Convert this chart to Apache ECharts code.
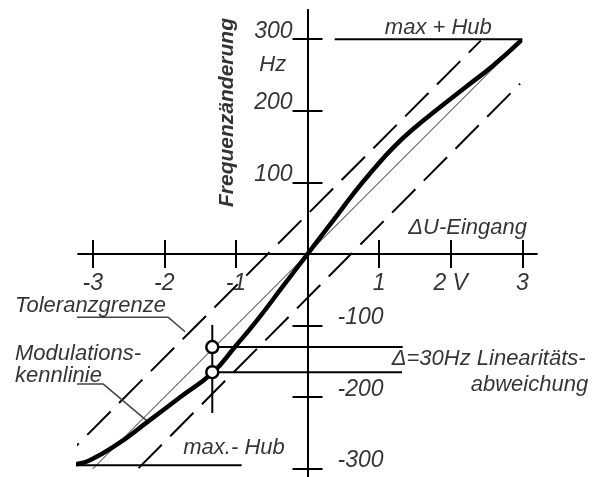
<!DOCTYPE html>
<html><head><meta charset="utf-8">
<script src="https://cdn.jsdelivr.net/npm/echarts@6/dist/echarts.min.js"></script>
<style>html,body{margin:0;padding:0;background:#fff}#c{width:602px;height:477px}</style>
</head><body><div id="c"></div>
<script>
// ---------- data ----------
const xTicks = [-3, -2, -1, 1, 2, 3];
const xTickLabels = ['-3', '-2', '-1', '1', '2 V', '3'];
const yTicks = [-300, -200, -100, 100, 200, 300];
const yLabelsPos = [100, 200, 300];
const yLabelsNeg = [-100, -200, -300];

// Modulationskennlinie (V, Hz)
const curveU = [-3.45, -3.25, -3.04, -2.66, -2.23, -1.78, -1.33, -1.0, -0.7, -0.35, 0, 0.36, 0.64, 0.92, 1.2, 1.48, 1.85, 2.22, 2.59, 2.97];
const curveF = [-297, -294, -288, -266, -234, -200, -166, -128, -92, -46, 0, 47, 84, 118, 149, 175, 205, 234, 263, 297];
// ideal linear characteristic
const idealU = [-3, 3];
const idealF = [-300, 300];
// tolerance limits
const tolUpU = [-3.52, 2.42];
const tolUpF = [-297, 298];
const tolLoU = [-2.36, 2.97];
const tolLoF = [-299, 238];
// max hub lines
const hubPlusU = [0.38, 3];
const hubPlusF = [300, 300];
const hubMinusU = [-3.57, -0.92];
const hubMinusF = [-295, -295];
// deviation marker
const devU = -1.33;
const devF = [-130, -165];
const devVertF = [-99, -222];
const devLineEndU = [1.33, 1.32];
// leader lines
const tolLeadU = [-4.085, -1.944, -1.71];
const tolLeadF = [-88.4, -88.4, -108.5];
const kenLeadU = [-4.085, -2.852, -2.23];
const kenLeadF = [-181.6, -181.6, -234];
// annotation texts
const annoText = ['Toleranzgrenze', 'Modulations-', 'kennlinie', 'max + Hub', 'max.- Hub', 'Δ=30Hz Linearitäts-', 'abweichung', 'ΔU-Eingang', 'Hz'];
const annoU = [-4.085, -4.085, -4.085, 1.08, -1.735, 1.176, 3.92, 1.408, -0.486];
const annoF = [-72.5, -138.8, -170, 316.3, -271, -147, -182.8, 36, 264.1];
const annoAlign = ['left', 'left', 'left', 'left', 'left', 'left', 'right', 'left', 'center'];
const yTitle = 'Frequenzänderung';
const yTitleU = -1.12;
const yTitleF = 197.6;

// ---------- chart ----------
const FONT = '"Liberation Sans", Arial, sans-serif';
const zip = (a, b) => a.map((v, i) => [v, b[i]]);
const lineSeries = (data, style, extra) => Object.assign({
  type: 'line', data: data, showSymbol: false, symbol: 'none', clip: false, silent: true,
  lineStyle: style, z: 3
}, extra || {});

const axisX = (pos) => ({
  type: 'value', min: -3.2, max: 3.2, position: pos,
  axisLine: { show: true, onZero: true, onZeroAxisIndex: 0, lineStyle: { color: '#000', width: 2 } },
  axisTick: { show: true, length: 14, customValues: xTicks, lineStyle: { color: '#000', width: 2 } },
  axisLabel: { show: false },
  splitLine: { show: false }
});
const axisY = (pos) => ({
  type: 'value', min: -311.4, max: 340.8, position: pos,
  axisLine: { show: true, onZero: true, onZeroAxisIndex: 0, lineStyle: { color: '#000', width: 2 } },
  axisTick: { show: true, length: 15, customValues: yTicks, lineStyle: { color: '#000', width: 2 } },
  axisLabel: { show: false },
  splitLine: { show: false }
});

const tickFont = { color: '#000', fontSize: 23, fontStyle: 'italic', fontFamily: FONT };
const labelSeries = (data, label) => ({
  type: 'scatter', silent: true, clip: false, z: 7, symbolSize: 0,
  data: data, label: Object.assign({ show: true }, tickFont, label), emphasis: { disabled: true }
});

const xLabelData = xTicks.map((v, i) => ({ value: [v, 0], label: { formatter: xTickLabels[i] } }));
const yPosData = yLabelsPos.map(v => ({ value: [0, v], label: { formatter: String(v) } }));
const yNegData = yLabelsNeg.map(v => ({ value: [0, v], label: { formatter: String(v) } }));

const annoData = annoText.map((t, i) => ({
  value: [annoU[i], annoF[i]],
  label: { formatter: t, align: annoAlign[i] }
}));
annoData.push({
  value: [yTitleU, yTitleF],
  label: { formatter: yTitle, align: 'center', rotate: 90, fontWeight: 'bold', fontSize: 21 }
});

const chart = echarts.init(document.getElementById('c'), null, { renderer: 'canvas' });
chart.setOption({
  animation: false,
  backgroundColor: '#fff',
  grid: { left: 78.4, top: 10, width: 458.2, height: 467, containLabel: false, outerBoundsMode: 'none' },
  xAxis: [axisX('bottom'), axisX('top')],
  yAxis: [axisY('left'), axisY('right')],
  series: [
    lineSeries(zip(idealU, idealF), { color: '#222', width: 1 }),
    lineSeries(zip(tolUpU, tolUpF), { color: '#000', width: 2, type: [33, 12] }),
    lineSeries(zip(tolLoU, tolLoF), { color: '#000', width: 2, type: [33, 12] }),
    lineSeries(zip(hubPlusU, hubPlusF), { color: '#000', width: 2 }),
    lineSeries(zip(hubMinusU, hubMinusF), { color: '#000', width: 2 }),
    lineSeries(zip(tolLeadU, tolLeadF), { color: '#444', width: 1.5 }),
    lineSeries(zip(kenLeadU, kenLeadF), { color: '#444', width: 1.5 }),
    lineSeries([[devU, devVertF[0]], [devU, devVertF[1]]], { color: '#000', width: 2 }),
    lineSeries([[devU, devF[0]], [devLineEndU[0], devF[0]]], { color: '#000', width: 2 }),
    lineSeries([[devU, devF[1]], [devLineEndU[1], devF[1]]], { color: '#000', width: 2 }),
    lineSeries(zip(curveU, curveF), { color: '#000', width: 4.5, cap: 'round', join: 'round' }, { smooth: 0.5, z: 4 }),
    {
      type: 'scatter', silent: true, clip: false, z: 6,
      data: devF.map(f => [devU, f]),
      symbol: 'circle', symbolSize: 12,
      itemStyle: { color: '#fff', borderColor: '#000', borderWidth: 2.5, opacity: 1 }
    },
    labelSeries(xLabelData, { position: [0, 18], align: 'center', verticalAlign: 'top', lineHeight: 23 }),
    labelSeries(yPosData, { position: [-15, 0], align: 'right', verticalAlign: 'bottom', lineHeight: 16 }),
    labelSeries(yNegData, { position: [30, 0], align: 'left', verticalAlign: 'bottom', lineHeight: 16 }),
    labelSeries(annoData, { position: [0, 0], verticalAlign: 'middle', fontSize: 22 })
  ]
});
</script>
</body></html>
